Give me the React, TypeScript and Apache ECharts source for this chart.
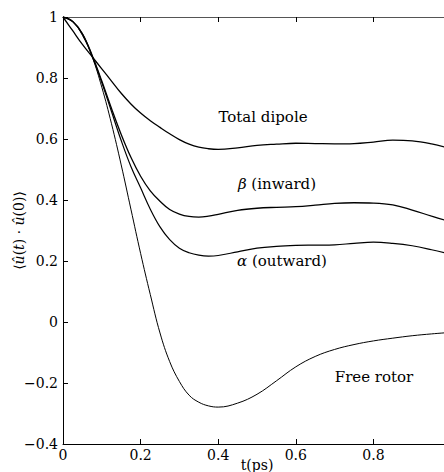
import React, { useEffect, useRef } from "react";
import * as echarts from "echarts";

const times = [0, 0.025, 0.05, 0.075, 0.1, 0.125, 0.15, 0.175, 0.2, 0.225, 0.25, 0.275, 0.3, 0.325, 0.35, 0.375, 0.4, 0.45, 0.5, 0.55, 0.6, 0.65, 0.7, 0.75, 0.8, 0.85, 0.9, 0.95, 1.0];

const totalDipole = [1, 0.955, 0.91, 0.87, 0.83, 0.79, 0.75, 0.715, 0.685, 0.66, 0.638, 0.617, 0.598, 0.583, 0.573, 0.568, 0.566, 0.571, 0.579, 0.583, 0.586, 0.585, 0.584, 0.585, 0.59, 0.596, 0.594, 0.584, 0.568];

const betaInward = [1, 0.985, 0.945, 0.875, 0.79, 0.7, 0.615, 0.54, 0.478, 0.43, 0.396, 0.369, 0.354, 0.346, 0.344, 0.347, 0.353, 0.366, 0.373, 0.376, 0.378, 0.383, 0.389, 0.391, 0.39, 0.384, 0.367, 0.347, 0.328];

const alphaOutward = [1, 0.985, 0.945, 0.872, 0.785, 0.69, 0.595, 0.51, 0.44, 0.37, 0.312, 0.27, 0.242, 0.227, 0.219, 0.216, 0.218, 0.23, 0.242, 0.248, 0.251, 0.252, 0.253, 0.258, 0.262, 0.258, 0.25, 0.237, 0.222];

const freeRotor = [1, 0.985, 0.94, 0.87, 0.77, 0.65, 0.515, 0.37, 0.225, 0.09, -0.036, -0.13, -0.195, -0.24, -0.263, -0.275, -0.279, -0.266, -0.237, -0.193, -0.147, -0.113, -0.09, -0.074, -0.062, -0.053, -0.045, -0.039, -0.034];

const seriesNames = ["Total dipole", "β (inward)", "α (outward)", "Free rotor"];
const seriesWidths = [1.3, 1.3, 1.2, 1.0];

const FONT = "DejaVu Serif";

function fmt(v: number): string {
  const r = Math.round(v * 10) / 10;
  if (r < 0) return "\u2212" + String(Math.abs(r));
  return String(r);
}

export default function App() {
  const ref = useRef<HTMLDivElement>(null);
  useEffect(() => {
    if (!ref.current) return;
    const chart = echarts.init(ref.current, undefined, { renderer: "svg" });
    const all = [totalDipole, betaInward, alphaOutward, freeRotor];
    const axisLine = { show: true, onZero: false, lineStyle: { color: "#000", width: 1 } };
    const richI = { fontStyle: "italic", fontFamily: FONT, fontSize: 15, color: "#000" };
    const richN = { fontFamily: FONT, fontSize: 15, color: "#000" };
    chart.setOption({
      animation: false,
      backgroundColor: "#fff",
      textStyle: { fontFamily: FONT },
      grid: { left: 63, right: 7, top: 17, bottom: 28, containLabel: false, outerBoundsMode: "none" },
      xAxis: [
        {
          type: "value",
          min: 0,
          max: 1,
          interval: 0.2,
          position: "bottom",
          axisLine,
          axisTick: { show: true, inside: true, length: 5, lineStyle: { color: "#000" } },
          splitLine: { show: false },
          axisLabel: { color: "#000", fontFamily: FONT, fontSize: 14, margin: 4, formatter: fmt, showMaxLabel: false },
          name: "t(ps)",
          nameLocation: "middle",
          nameGap: 14,
          nameMoveOverlap: false,
          nameTextStyle: { color: "#000", fontFamily: FONT, fontSize: 14, fontStyle: "normal" },
        },
        {
          type: "value",
          min: 0,
          max: 1,
          interval: 0.2,
          position: "top",
          axisLine: { show: true, onZero: false, lineStyle: { color: "#555", width: 1 } },
          axisTick: { show: true, inside: true, length: 5, lineStyle: { color: "#000" } },
          splitLine: { show: false },
          axisLabel: { show: false },
        },
      ],
      yAxis: {
        type: "value",
        min: -0.4,
        max: 1,
        interval: 0.2,
        axisLine,
        axisTick: { show: true, inside: true, length: 5, lineStyle: { color: "#000" } },
        splitLine: { show: false },
        axisLabel: { color: "#000", fontFamily: FONT, fontSize: 14, margin: 5, formatter: fmt },
        name: "{n|⟨}{i|û}{n|(}{i|t}{n|) · }{i|û}{n|(0)⟩}",
        nameLocation: "middle",
        nameGap: 37,
        nameMoveOverlap: false,
        nameRotate: 90,
        nameTextStyle: {
          color: "#000",
          fontFamily: FONT,
          fontSize: 14,
          rich: {
            n: { color: "#000", fontFamily: FONT, fontSize: 14 },
            i: { color: "#000", fontFamily: FONT, fontSize: 14, fontStyle: "italic" },
          },
        },
      },
      series: all.map((vals, k) => ({
        type: "line",
        name: seriesNames[k],
        xAxisIndex: 0,
        data: times.map((t, i) => [t, vals[i]]),
        showSymbol: false,
        smooth: 0.4,
        lineStyle: { color: "#000", width: seriesWidths[k] },
        z: 3,
      })),
      graphic: [
        { type: "text", x: 263, y: 117, style: { text: "Total dipole", fontFamily: FONT, fontSize: 15, fill: "#000", align: "center", verticalAlign: "middle" } },
        {
          type: "text",
          x: 277,
          y: 184,
          style: {
            text: "{i|β}{n| (inward)}",
            fontFamily: FONT,
            fontSize: 15,
            fill: "#000",
            align: "center",
            verticalAlign: "middle",
            rich: { i: richI, n: richN },
          },
        },
        {
          type: "text",
          x: 282,
          y: 261,
          style: {
            text: "{i|α}{n| (outward)}",
            fontFamily: FONT,
            fontSize: 15,
            fill: "#000",
            align: "center",
            verticalAlign: "middle",
            rich: { i: richI, n: richN },
          },
        },
        { type: "text", x: 374, y: 377, style: { text: "Free rotor", fontFamily: FONT, fontSize: 15, fill: "#000", align: "center", verticalAlign: "middle" } },
      ],
    });
    return () => chart.dispose();
  }, []);
  return (
    <div style={{ position: "absolute", left: 0, top: 0, width: 444, height: 472, overflow: "hidden", background: "#fff" }}>
      <div ref={ref} style={{ width: 458, height: 472 }} />
    </div>
  );
}
